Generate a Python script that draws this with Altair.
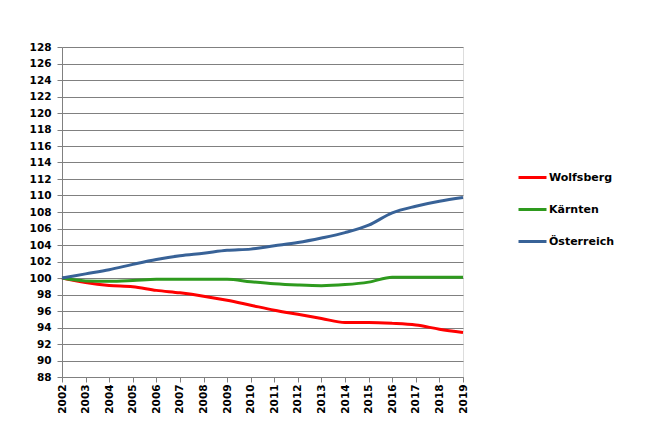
import altair as alt
import pandas as pd

years = list(range(2002, 2020))
wolfsberg = [100, 99.45, 99.1, 98.95, 98.5, 98.2, 97.8, 97.3, 96.7, 96.1, 95.6, 95.1, 94.6, 94.6, 94.5, 94.3, 93.8, 93.4]
kaernten = [100, 99.65, 99.6, 99.7, 99.85, 99.85, 99.85, 99.85, 99.55, 99.3, 99.15, 99.07, 99.2, 99.5, 100.1, 100.1, 100.1, 100.1]
oesterreich = [100, 100.5, 101.0, 101.65, 102.25, 102.7, 103.0, 103.35, 103.5, 103.9, 104.3, 104.85, 105.5, 106.4, 107.9, 108.7, 109.3, 109.75]
series_names = ["Wolfsberg", "Kärnten", "Österreich"]
colors = ["#FF0000", "#2E9A1E", "#386297"]
y_ticks = list(range(88, 129, 2))

rows = []
for name, vals in zip(series_names, [wolfsberg, kaernten, oesterreich]):
    for y, v in zip(years, vals):
        rows.append({"Jahr": str(y), "Wert": v, "Region": name})
df = pd.DataFrame(rows)

chart = alt.Chart(df).mark_line(strokeWidth=3, interpolate="monotone").encode(
    x=alt.X("Jahr:O", scale=alt.Scale(padding=0),
            axis=alt.Axis(title=None, labelAngle=270, grid=False, tickSize=5,
                          labelFontSize=10.5, labelFontWeight="bold", labelColor="black",
                          domainColor="#808080", tickColor="#808080", labelPadding=2)),
    y=alt.Y("Wert:Q", scale=alt.Scale(domain=[88, 128], nice=False, zero=False),
            axis=alt.Axis(title=None, values=y_ticks, grid=True, gridColor="#808080",
                          gridOpacity=1, tickSize=5, labelFontSize=10.5, labelFontWeight="bold",
                          labelColor="black", domainColor="#808080", tickColor="#808080",
                          labelPadding=6)),
    color=alt.Color("Region:N", sort=series_names,
                    scale=alt.Scale(domain=series_names, range=colors),
                    legend=alt.Legend(title=None, orient="none", legendX=455, legendY=115,
                                      symbolType="stroke", symbolSize=784, symbolStrokeWidth=3,
                                      labelFontSize=11, labelFontWeight="bold", labelColor="black",
                                      labelOffset=1, rowPadding=10, padding=0)),
).properties(
    width=401, height=330,
    autosize=alt.AutoSizeParams(type="none"),
    padding={"left": 54, "top": 39, "right": 180, "bottom": 40},
).configure_view(stroke=None).configure(font="DejaVu Sans")

chart.save("out.html", embed_options={"renderer": "svg", "actions": False})
